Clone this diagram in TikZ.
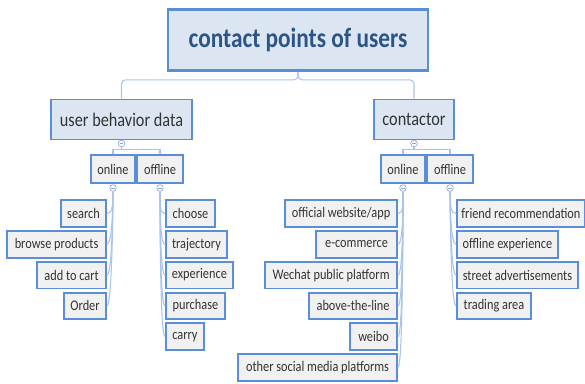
\documentclass[tikz,border=0pt]{standalone}
\usepackage{fontspec}
\setmainfont{Carlito}[FakeStretch=0.84]
\definecolor{boxblue}{HTML}{5B8ED8}
\definecolor{lineblue}{HTML}{A9C3EA}
\definecolor{foldblue}{HTML}{8EA9D8}
\definecolor{headfill}{HTML}{DCE6F2}
\definecolor{leaffill}{HTML}{F1F1F1}
\definecolor{titleblue}{HTML}{2C5586}
\definecolor{leaftext}{HTML}{333333}
\tikzset{
  rootbox/.style={draw=boxblue, line width=1.8pt, fill=headfill, text=titleblue,
    font=\fontsize{20.8}{24}\selectfont\bfseries, minimum width=195pt, minimum height=46pt},
  topic/.style={draw=boxblue, line width=1.4pt, fill=headfill, text=leaftext,
    font=\fontsize{14.5}{17}\selectfont, inner sep=0pt, minimum height=30pt},
  branch/.style={draw=boxblue, line width=1.4pt, fill=leaffill, text=leaftext,
    font=\fontsize{11}{13}\selectfont, inner sep=0pt, minimum height=20.5pt},
  leaf/.style={draw=boxblue, line width=1.4pt, fill=leaffill, text=leaftext,
    font=\fontsize{11}{13}\selectfont, inner sep=0pt, minimum height=20pt},
  link/.style={draw=lineblue, line width=0.8pt},
  fold/.style={circle, draw=foldblue, fill=white, line width=0.5pt, inner sep=0pt, minimum size=5pt,
    path picture={\draw[foldblue, line width=0.4pt]
      ([xshift=-1.3pt]path picture bounding box.center) -- ([xshift=1.3pt]path picture bounding box.center);}}
}
\begin{document}
\begin{tikzpicture}[x=0.75pt, y=-0.75pt]
  \useasboundingbox (0,0) rectangle (585,383);
  % main topics
  \node[rootbox] (root) at (298,40) {contact points of users};
  \node[topic, minimum width=106pt] (behavior) at (121.5,119.5) {user behavior data};
  \node[topic, minimum width=60pt] (contactor) at (414,119.5) {contactor};
  \draw[link, rounded corners=3pt] (root.south) -- ++(0,8) -| (behavior.north);
  \draw[link, rounded corners=3pt] (root.south) -- ++(0,8) -| (contactor.north);
  % online / offline
  \node[fold] (behaviorFold) at (121.5,143.5) {};
  \node[fold] (contactorFold) at (414,143.5) {};
  \node[branch, minimum width=33pt] (bOnline) at (113,169) {online};
  \node[branch, minimum width=34.5pt] (bOffline) at (160,169) {offline};
  \node[branch, minimum width=33pt] (cOnline) at (403,169) {online};
  \node[branch, minimum width=34.5pt] (cOffline) at (450,169) {offline};
  \draw[link] (behaviorFold.south) -- ++(0,2) -| (bOnline.north);
  \draw[link] (behaviorFold.south) -- ++(0,2) -| (bOffline.north);
  \draw[link] (contactorFold.south) -- ++(0,2) -| (cOnline.north);
  \draw[link] (contactorFold.south) -- ++(0,2) -| (cOffline.north);
  \node[fold] (bOnlineFold) at (113,188) {};
  \node[fold] (bOfflineFold) at (160,188) {};
  \node[fold] (cOnlineFold) at (403,188) {};
  \node[fold] (cOfflineFold) at (450,188) {};
  % leaves
  \foreach \w/\txt [count=\i] in {45/search, 99/browse products, 69/add to cart, 42/Order} {
    \node[leaf, anchor=east, minimum width=\w*0.75pt] (bOn\i) at (107,182.7+30.8*\i) {\txt};
    \draw[link] (bOnlineFold.south) .. controls +(0,15) and +(5,0) .. (bOn\i.east);
  }
  \foreach \w/\txt [count=\i] in {49/choose, 61/trajectory, 67/experience, 59/purchase, 38/carry} {
    \node[leaf, anchor=west, minimum width=\w*0.75pt] (bOff\i) at (165,182.7+30.8*\i) {\txt};
    \draw[link] (bOfflineFold.south) .. controls +(0,15) and +(-5,0) .. (bOff\i.west);
  }
  \foreach \w/\txt [count=\i] in {112/{official website/app}, 81/e-commerce, 132/Wechat public platform,
      88/above-the-line, 47/weibo, 159/other social media platforms} {
    \node[leaf, anchor=east, minimum width=\w*0.75pt] (cOn\i) at (398,182.7+30.8*\i) {\txt};
    \draw[link] (cOnlineFold.south) .. controls +(0,15) and +(5,0) .. (cOn\i.east);
  }
  \foreach \w/\txt [count=\i] in {128/friend recommendation, 101/offline experience,
      121/street advertisements, 74/trading area} {
    \node[leaf, anchor=west, minimum width=\w*0.75pt] (cOff\i) at (456,182.7+30.8*\i) {\txt};
    \draw[link] (cOfflineFold.south) .. controls +(0,15) and +(-5,0) .. (cOff\i.west);
  }
\end{tikzpicture}
\end{document}
